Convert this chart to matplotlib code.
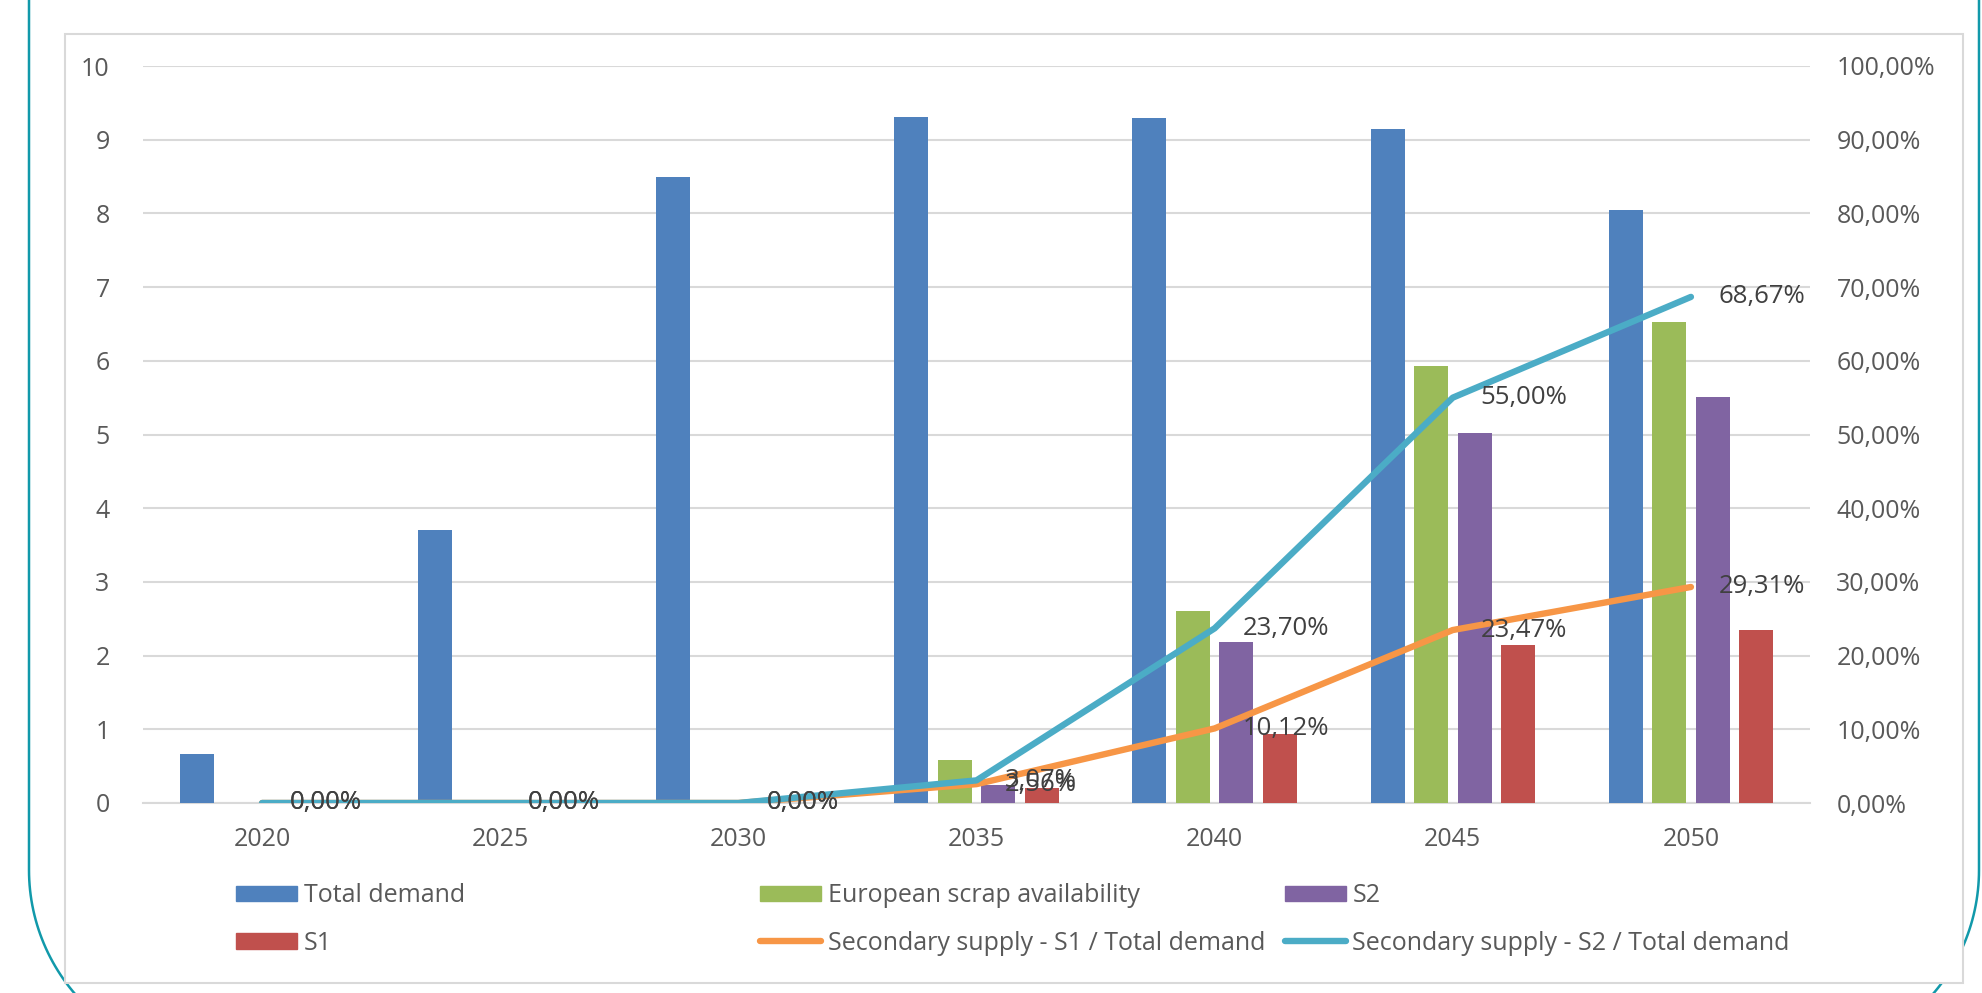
import numpy as np
import matplotlib
matplotlib.use("Agg")
from matplotlib import pyplot as plt
from matplotlib.patches import Rectangle, Patch
from matplotlib.lines import Line2D
from matplotlib.ticker import FuncFormatter

plt.rcParams['font.family'] = ['Open Sans', 'DejaVu Sans']

years = ['2020', '2025', '2030', '2035', '2040', '2045', '2050']
total_demand = [0.67, 3.71, 8.49, 9.31, 9.30, 9.14, 8.04]
scrap = [0, 0, 0, 0.58, 2.61, 5.93, 6.52]
s2 = [0, 0, 0, 0.25, 2.19, 5.02, 5.51]
s1 = [0, 0, 0, 0.21, 0.93, 2.14, 2.35]
ratio_s1 = [0.0, 0.0, 0.0, 2.56, 10.12, 23.47, 29.31]
ratio_s2 = [0.0, 0.0, 0.0, 3.07, 23.70, 55.00, 68.67]

blue = '#4F81BD'
green = '#9BBB59'
purple = '#8064A2'
red = '#C0504D'
orange = '#F79646'
teal = '#4BACC6'
txt = '#595959'

W, H = 1983, 993
fig = plt.figure(figsize=(W / 100, H / 100), dpi=100)

# background: teal border with round bottom corners + grey chart frame
bg = fig.add_axes([0, 0, 1, 1], zorder=0)
bg.set_xlim(0, W)
bg.set_ylim(H, 0)
bg.axis('off')
rad, left, right, yc = 190, 29, 1979, 870
th = np.linspace(0, np.pi / 2, 60)
bx = np.concatenate([[left], left + rad - rad * np.cos(th),
                     right - rad + rad * np.sin(th)[::-1] * 0 + rad * np.cos(th[::-1]), [right]])
by = np.concatenate([[-10], yc + rad * np.sin(th), yc + rad * np.sin(th[::-1]), [-10]])
bg.plot(bx, by, color='#1199AA', lw=1.8)
bg.add_patch(Rectangle((65, 34), 1898, 949, fc='white', ec='#D9D9D9', lw=1.5, zorder=3))

# main axes
ax = fig.add_axes([143 / W, 1 - 803 / H, (1810 - 143) / W, (803 - 66) / H], zorder=2)
ax.set_facecolor('none')
x = np.arange(len(years))
step = 0.1826
bw = 0.143
ax.bar(x - 1.5 * step, total_demand, bw, color=blue, zorder=3)
ax.bar(x - 0.5 * step, scrap, bw, color=green, zorder=3)
ax.bar(x + 0.5 * step, s2, bw, color=purple, zorder=3)
ax.bar(x + 1.5 * step, s1, bw, color=red, zorder=3)

ax.set_xlim(-0.5, len(years) - 0.5)
ax.set_ylim(0, 10)
ax.set_yticks(range(0, 11))
ax.set_xticks(x)
ax.set_xticklabels(years)
ax.yaxis.grid(True, color='#D9D9D9', lw=1.5)
ax.set_axisbelow(True)
for s in ['top', 'left', 'right']:
    ax.spines[s].set_visible(False)
ax.spines['bottom'].set_color('#D9D9D9')
ax.spines['bottom'].set_linewidth(1.5)
ax.tick_params(axis='both', length=0, labelsize=18, labelcolor=txt)
ax.tick_params(axis='y', pad=24)
ax.tick_params(axis='x', pad=17)

ax2 = ax.twinx()
ax2.set_ylim(0, 1)
ax2.set_yticks(np.arange(0, 1.01, 0.1))
ax2.yaxis.set_major_formatter(FuncFormatter(lambda v, p: ('%.2f%%' % (v * 100)).replace('.', ',')))
for s in ['top', 'left', 'right', 'bottom']:
    ax2.spines[s].set_visible(False)
ax2.tick_params(axis='y', length=0, labelsize=18, labelcolor=txt, pad=19)

r1 = np.array(ratio_s1) / 100
r2 = np.array(ratio_s2) / 100
ax2.plot(x, r1, color=orange, lw=4.6, solid_capstyle='round', solid_joinstyle='round', zorder=4)
ax2.plot(x, r2, color=teal, lw=4.6, solid_capstyle='round', solid_joinstyle='round', zorder=4)
for xi, v, lab in list(zip(x, r1, ratio_s1)) + list(zip(x, r2, ratio_s2)):
    ax2.annotate(('%.2f%%' % lab).replace('.', ','), (xi, v), xytext=(28, 0),
                 textcoords='offset pixels', ha='left', va='center',
                 fontsize=18.5, color='#404040', zorder=5)

# legend, three columns placed like the original
cols = [
    ([Patch(color=blue), Patch(color=red)], ['Total demand', 'S1'], 236),
    ([Patch(color=green), Line2D([], [], color=orange, lw=4.6, solid_capstyle='round')],
     ['European scrap availability', 'Secondary supply - S1 / Total demand'], 760),
    ([Patch(color=purple), Line2D([], [], color=teal, lw=4.6, solid_capstyle='round')],
     ['S2', 'Secondary supply - S2 / Total demand'], 1285),
]
for handles, labels, lx in cols:
    leg = fig.legend(handles, labels, loc='center left',
                     bbox_to_anchor=(lx / W, 1 - 919.5 / H), frameon=False,
                     fontsize=18, handlelength=2.45, handleheight=0.6,
                     handletextpad=0.25, labelspacing=0.9, borderpad=0,
                     borderaxespad=0)
    for t in leg.get_texts():
        t.set_color(txt)

fig.savefig('out.png', dpi=100)
